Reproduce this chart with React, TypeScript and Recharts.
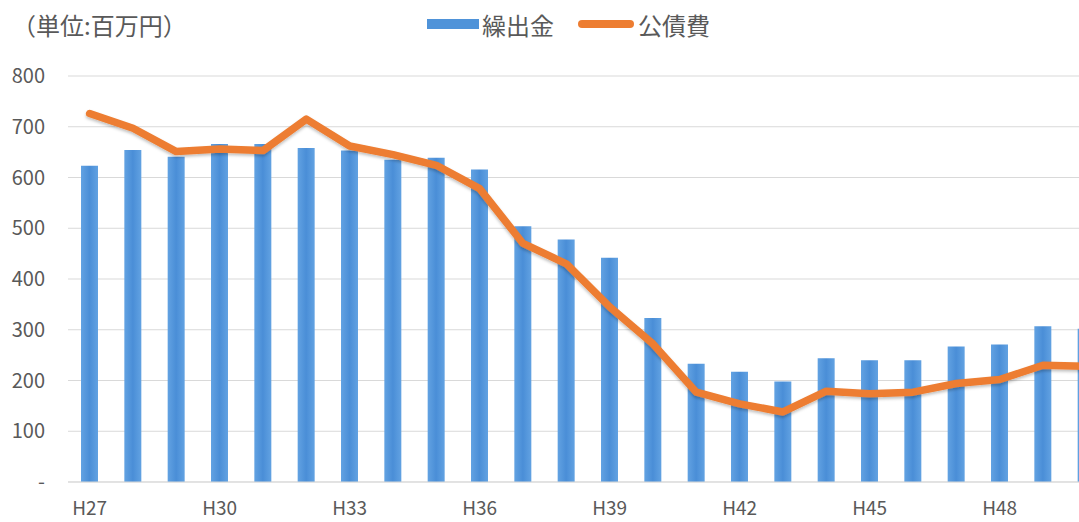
import React from 'react';
import { ComposedChart, Bar, Line, XAxis, YAxis, CartesianGrid } from 'recharts';

// Fiscal years (Heisei era) shown on the category axis
const years = [
  'H27', 'H28', 'H29', 'H30', 'H31', 'H32', 'H33', 'H34', 'H35', 'H36', 'H37', 'H38',
  'H39', 'H40', 'H41', 'H42', 'H43', 'H44', 'H45', 'H46', 'H47', 'H48', 'H49', 'H50',
];

// 繰出金 (million yen)
const kuridashiValues = [
  623, 654, 641, 666, 666, 658, 653, 635, 639, 616, 504, 478,
  442, 323, 233, 217, 198, 244, 240, 240, 267, 271, 307, 302,
];

// 公債費 (million yen)
const kosaihiValues = [
  726, 697, 651, 656, 653, 715, 662, 645, 624, 578, 470, 430,
  345, 272, 177, 154, 138, 179, 174, 177, 194, 202, 230, 228,
];

const yTicks = [0, 100, 200, 300, 400, 500, 600, 700, 800];

const seriesNames = { bar: '繰出金', line: '公債費' };
const unitLabel = '（単位:百万円）';

const rows = years.map((year, i) => ({
  year,
  kuridashi: kuridashiValues[i],
  kosaihi: kosaihiValues[i],
}));

const FONT = '"Noto Sans CJK JP", "Noto Sans", sans-serif';
const TEXT = '#595959';
const BLUE = '#4F93D9';
const ORANGE = '#ED7D31';
const GRID = '#D9D9D9';

export default function App() {
  return (
    <div
      style={{
        position: 'fixed',
        left: 0,
        top: 0,
        width: 1079,
        height: 522,
        overflow: 'hidden',
        background: '#fff',
        fontFamily: FONT,
      }}
    >
      <div
        style={{
          position: 'absolute',
          left: 12,
          top: 10,
          fontSize: 24,
          color: TEXT,
          whiteSpace: 'nowrap',
          lineHeight: '30px',
        }}
      >
        {unitLabel}
      </div>

      {/* legend */}
      <div
        style={{
          position: 'absolute',
          left: 427,
          top: 9,
          height: 30,
          display: 'flex',
          alignItems: 'center',
          fontSize: 24,
          color: TEXT,
          whiteSpace: 'nowrap',
        }}
      >
        <span style={{ display: 'inline-block', width: 52, height: 10, background: BLUE, marginRight: 3 }} />
        <span>{seriesNames.bar}</span>
        <span
          style={{
            display: 'inline-block',
            width: 56,
            height: 8,
            borderRadius: 4,
            background: ORANGE,
            marginLeft: 24,
            marginRight: 4,
          }}
        />
        <span>{seriesNames.line}</span>
      </div>

      <ComposedChart
        width={1108}
        height={522}
        data={rows}
        margin={{ top: 76, right: 0, bottom: 0, left: 0 }}
        barCategoryGap={0}
      >
        <defs>
          <linearGradient id="barFill" x1="0" y1="0" x2="1" y2="0">
            <stop offset="0%" stopColor="#62A2E2" />
            <stop offset="50%" stopColor="#4A8ED7" />
            <stop offset="100%" stopColor="#62A2E2" />
          </linearGradient>
          <filter id="lineShadow" x="-5%" y="-20%" width="110%" height="140%">
            <feDropShadow dx="0" dy="2" stdDeviation="1.5" floodColor="#000" floodOpacity="0.25" />
          </filter>
        </defs>
        <CartesianGrid vertical={false} stroke={GRID} strokeWidth={1} />
        <XAxis
          dataKey="year"
          interval={2}
          height={40}
          tickLine={false}
          tickSize={0}
          tickMargin={20}
          axisLine={{ stroke: GRID }}
          tick={{ fill: TEXT, fontSize: 19, fontFamily: FONT }}
        />
        <YAxis
          width={68}
          domain={[0, 800]}
          ticks={yTicks}
          interval={0}
          tickLine={false}
          tickSize={0}
          tickMargin={23}
          axisLine={false}
          tickFormatter={(v: number) => (v === 0 ? '-' : String(v))}
          tick={{ fill: TEXT, fontSize: 20, fontFamily: FONT }}
        />
        <Bar
          dataKey="kuridashi"
          name={seriesNames.bar}
          fill="url(#barFill)"
          barSize={17}
          isAnimationActive={false}
        />
        <Line
          dataKey="kosaihi"
          name={seriesNames.line}
          type="linear"
          stroke={ORANGE}
          strokeWidth={7.5}
          strokeLinejoin="round"
          strokeLinecap="round"
          dot={false}
          activeDot={false}
          filter="url(#lineShadow)"
          isAnimationActive={false}
        />
      </ComposedChart>
    </div>
  );
}
